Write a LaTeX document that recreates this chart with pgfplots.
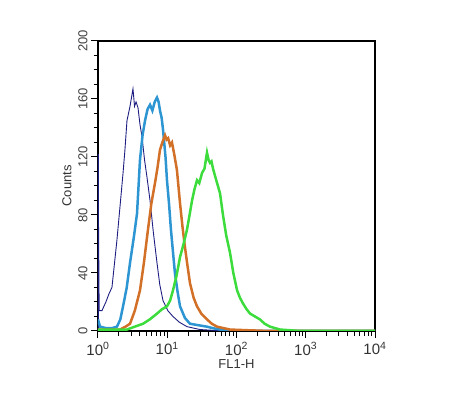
\documentclass[border=0pt]{standalone}
\usepackage{pgfplots}
\pgfplotsset{compat=1.18}
\usepackage{fontspec}
\setmainfont{Liberation Sans}
\definecolor{navyc}{RGB}{30,30,130}
\definecolor{lblue}{RGB}{45,150,210}
\definecolor{orangec}{RGB}{210,112,40}
\definecolor{greenc}{RGB}{60,220,60}
\begin{document}
\begin{tikzpicture}
\begin{axis}[
  at={(0,0)}, anchor=south west,
  scale only axis, width=277pt, height=290pt,
  xmode=log, xmin=1, xmax=10000, ymin=0, ymax=200,
  xtick={1,10,100,1000,10000},
  minor xtick={2,3,4,5,6,7,8,9,20,30,40,50,60,70,80,90,200,300,400,500,600,700,800,900,2000,3000,4000,5000,6000,7000,8000,9000},
  xticklabels={10\textsuperscript{0},10\textsuperscript{1},10\textsuperscript{2},10\textsuperscript{3},10\textsuperscript{4}},
  ytick={0,40,80,120,160,200},
  minor y tick num=3,
  /pgf/number format/assume math mode=true,
  tick align=outside,
  xtick pos=bottom, ytick pos=left,
  major tick length=7pt, minor tick length=4.5pt,
  every tick/.style={black, line width=1pt},
  axis line style={black, line width=1.3pt},
  yticklabel style={rotate=90, anchor=south, font=\fontsize{13}{14}\selectfont, color=black!75},
  xticklabel style={font=\fontsize{15}{16}\selectfont, color=black!80, yshift=-1pt},
  xlabel={FL1-H}, ylabel={Counts},
  xlabel style={font=\fontsize{13}{14}\selectfont, color=black!80, yshift=3pt},
  ylabel style={font=\fontsize{13}{14}\selectfont, color=black!80, yshift=0pt},
  clip=true,
]
% navy first-channel spike
\addplot[navyc, line width=2pt] coordinates {(1.0,0) (1.0,122)};
% navy
\addplot[navyc, line width=0.9pt] coordinates {
(1.0,122)(1.04,14)(1.14,14)(1.30,20)(1.45,26)(1.59,30)(1.76,50)(1.88,63)(2.08,86)(2.30,109)(2.45,125)(2.62,145)(2.90,155)(3.20,167)(3.37,155)(3.54,158)(3.78,154)(4.05,142)(4.32,134)(4.7,118)(5.10,106)(5.64,90)(6.3,68)(7.11,47)(7.8,32)(8.68,21)(10.2,14)(12.1,10)(15,6)(19.3,3)(24,2)(29.7,1)(45,0.5)(80,0)(10000,0)};
% light blue
\addplot[lblue, line width=2.5pt] coordinates {
(1.0,8)(1.07,3)(1.3,2)(1.6,2)(1.88,3)(2.1,8)(2.30,17)(2.6,30)(2.90,47)(3.3,65)(3.66,81)(4.04,118)(4.4,135)(4.77,145)(5.2,153)(5.64,156)(6.1,152)(6.6,158)(7.11,161)(7.5,158)(7.86,152)(8.3,147)(8.68,139)(9.44,120)(9.91,104)(10.6,88)(11.3,70)(12.9,40)(14,28)(15.3,17)(18,9)(21.3,5)(28,4)(37.5,3)(45,2)(57.8,1)(80,0.5)(112,0)(10000,0)};
% orange
\addplot[orangec, line width=2.5pt] coordinates {
(1.0,1)(1.6,1)(2.08,1)(2.5,3)(2.90,5)(3.4,14)(4.04,28)(4.6,47)(5.27,70)(5.9,88)(6.65,102)(7.2,112)(7.86,125)(8.5,130)(9.29,135)(9.8,132)(10.3,133)(11.0,128)(11.7,130)(12.6,122)(13.8,111)(14.5,100)(15.3,88)(16.6,72)(18.0,58)(19.6,45)(21.3,33)(24,23)(26.9,17)(31,12)(37.5,8)(44,5)(52.3,3)(65,2)(80.6,1)(150,0.5)(303,0)(10000,0)};
% green
\addplot[greenc, line width=2.5pt] coordinates {
(1.0,1)(1.8,1)(2.62,1)(3.4,3)(4.47,5)(5.6,8)(7.11,12)(8.4,15)(9.91,17)(11,21)(12.1,28)(13.6,38)(15.3,51)(17.2,60)(19.3,70)(21,80)(22.8,90)(24.8,98)(26.9,104)(29,102)(31.8,109)(34.5,112)(37.5,123)(39.5,118)(41.4,116)(43.5,117)(45.8,112)(51,104)(57.8,95)(63.8,80)(71,66)(80.6,54)(90,40)(102,28)(112,23)(124,19)(140,15)(157,12)(185,10)(218,8)(255,5)(305,3)(360,2)(425,1)(600,0.5)(826,0)(10000,0)};
\end{axis}
\path[use as bounding box] ([xshift=-98pt,yshift=-68pt]current axis.south west) rectangle ([xshift=75pt,yshift=41pt]current axis.north east);
\end{tikzpicture}
\end{document}
